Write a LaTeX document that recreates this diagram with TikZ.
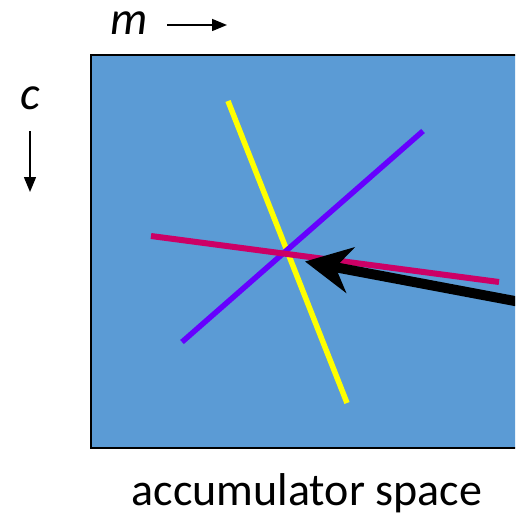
\documentclass[tikz,border=0pt]{standalone}
\usepackage{fontspec}
\setmainfont{Carlito}
\usetikzlibrary{arrows.meta}
\definecolor{accblue}{HTML}{5B9BD5}
\definecolor{lyellow}{HTML}{FFFF00}
\definecolor{lpurple}{HTML}{6600FF}
\definecolor{lmagenta}{HTML}{CC0066}
\tikzset{
  houghline/.style={line width=5.5pt},
  axisarrow/.style={line width=1.5pt,-{Triangle[length=15pt,width=12pt]}},
  lbl/.style={font=\fontsize{46}{48}\selectfont, inner sep=0pt, anchor=base},
  ilbl/.style={font=\fontsize{47}{50}\selectfont\itshape, inner sep=0pt, anchor=base},
}
\begin{document}
\begin{tikzpicture}[x=1pt,y=-1pt]
\useasboundingbox (0,0) rectangle (515,516);
\clip (0,0) rectangle (515,516);
% accumulator rectangle
\draw[fill=accblue, line width=2pt] (91,55) rectangle (540,448);
% lines
\draw[houghline, lyellow] (228,101) -- (347,403);
\draw[houghline, lpurple] (182,342) -- (423,131);
\draw[houghline, lmagenta, line width=6pt] (151,236) -- (499,282);
% big arrow
\coordinate (tail) at (545,306.7);
\coordinate (tip) at (305,261.5);
\draw[line width=10pt, -{Stealth[length=46pt,width=46pt,inset=15pt]}] (tail) -- (tip);
% axis labels
\node[ilbl] (m) at (129,35) {m};
\coordinate (ma) at (167,25);
\coordinate (mb) at (227,25);
\draw[axisarrow] (ma) -- (mb);
\node[ilbl] (c) at (30,110) {c};
\coordinate (ca) at (30,131);
\coordinate (cb) at (30,192);
\draw[axisarrow] (ca) -- (cb);
\node[lbl] (acc) at (307,505) {accumulator space};
\end{tikzpicture}
\end{document}
